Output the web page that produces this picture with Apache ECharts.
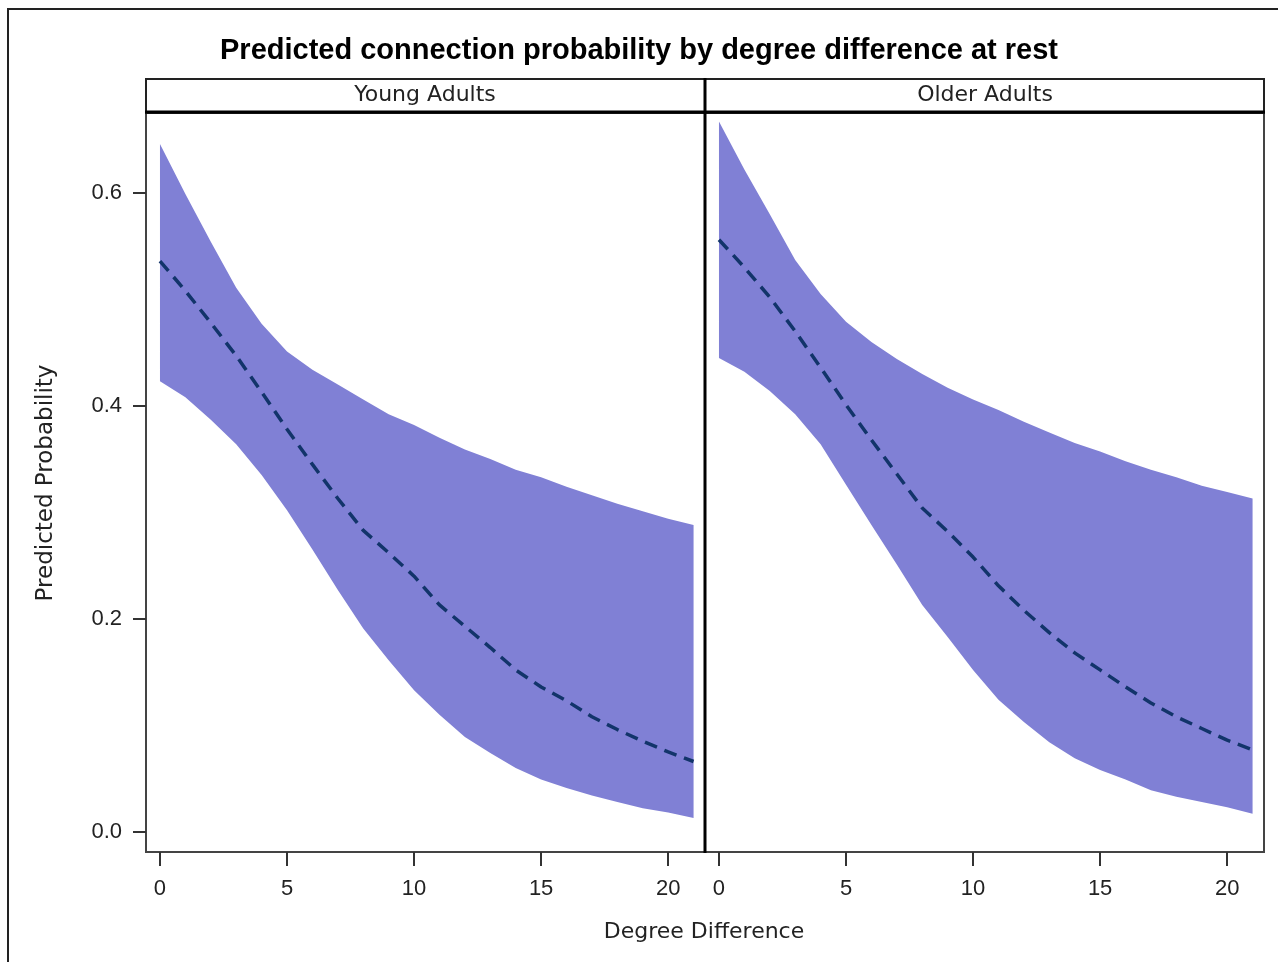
<!DOCTYPE html>
<html>
<head>
<meta charset="utf-8">
<script src="https://cdn.jsdelivr.net/npm/echarts@6/dist/echarts.min.js"></script>
<style>
  html, body { margin: 0; padding: 0; background: #fff; }
  .main { width: 1278px; height: 962px; }
</style>
</head>
<body>
<div class="main"></div>
<script>
let chartDom = document.querySelector('.main');
let myChart = echarts.init(chartDom);

let degree = [0, 1, 2, 3, 4, 5, 6, 7, 8, 9, 10, 11, 12, 13, 14, 15, 16, 17, 18, 19, 20, 21];

// Young Adults
let youngMean  = [0.536, 0.508, 0.478, 0.447, 0.413, 0.378, 0.345, 0.313, 0.283, 0.262, 0.240, 0.213, 0.193, 0.173, 0.152, 0.136, 0.123, 0.108, 0.096, 0.085, 0.075, 0.066];
let youngUpper = [0.646, 0.599, 0.554, 0.511, 0.477, 0.451, 0.434, 0.420, 0.406, 0.392, 0.382, 0.370, 0.359, 0.350, 0.340, 0.333, 0.324, 0.316, 0.308, 0.301, 0.294, 0.288];
let youngLower = [0.423, 0.408, 0.387, 0.364, 0.335, 0.302, 0.265, 0.227, 0.191, 0.161, 0.133, 0.110, 0.089, 0.074, 0.060, 0.049, 0.041, 0.034, 0.028, 0.022, 0.018, 0.013];

// Older Adults
let olderMean  = [0.556, 0.530, 0.502, 0.470, 0.436, 0.401, 0.368, 0.336, 0.304, 0.282, 0.258, 0.231, 0.208, 0.187, 0.168, 0.152, 0.136, 0.121, 0.108, 0.097, 0.086, 0.077];
let olderUpper = [0.667, 0.622, 0.580, 0.537, 0.505, 0.479, 0.460, 0.444, 0.430, 0.417, 0.406, 0.396, 0.385, 0.375, 0.365, 0.357, 0.348, 0.340, 0.333, 0.325, 0.319, 0.313];
let olderLower = [0.445, 0.432, 0.414, 0.392, 0.364, 0.326, 0.288, 0.251, 0.213, 0.183, 0.152, 0.124, 0.103, 0.084, 0.069, 0.058, 0.049, 0.039, 0.033, 0.028, 0.023, 0.017];

let panels = ['Young Adults', 'Older Adults'];
let xTicks = [0, 5, 10, 15, 20];
let yTicks = [0, 0.2, 0.4, 0.6];

let bandColor = '#8080d5';
let lineColor = '#12346a';
let tickFont = { fontFamily: 'Liberation Sans', fontSize: 22, color: '#222' };

function pairs(xs, ys) {
    return xs.map((x, i) => [x, ys[i]]);
}

// confidence band drawn as one polygon: upper edge forward, lower edge back
function bandSeries(idx, lower, upper, mean) {
    return [
        {
            type: 'custom', xAxisIndex: idx, yAxisIndex: idx, silent: true,
            data: pairs(degree, upper),
            renderItem: function (params, api) {
                if (params.dataIndex !== 0) return;
                let pts = [];
                for (let i = 0; i < degree.length; i++) pts.push(api.coord([degree[i], upper[i]]));
                for (let i = degree.length - 1; i >= 0; i--) pts.push(api.coord([degree[i], lower[i]]));
                return { type: 'polygon', shape: { points: pts }, style: { fill: bandColor } };
            }
        },
        {
            type: 'line', xAxisIndex: idx, yAxisIndex: idx,
            symbol: 'none', silent: true, z: 5,
            lineStyle: { color: lineColor, width: 3.5, type: [13, 8] },
            data: pairs(degree, mean)
        }
    ];
}

function xAxisFor(idx) {
    return {
        type: 'value', gridIndex: idx, min: -0.55, max: 21.45,
        axisLine: { show: false, onZero: false },
        splitLine: { show: false },
        axisTick: { show: true, length: 14, customValues: xTicks, lineStyle: { color: '#333', width: 2 } },
        axisLabel: Object.assign({ margin: 26, customValues: xTicks }, tickFont)
    };
}

function yAxisFor(idx) {
    return {
        type: 'value', gridIndex: idx, min: -0.019, max: 0.675,
        show: idx === 0,
        axisLine: { show: false, onZero: false },
        splitLine: { show: false },
        axisTick: { show: true, length: 13, customValues: yTicks, lineStyle: { color: '#333', width: 2 } },
        axisLabel: Object.assign({ margin: 24, customValues: yTicks, formatter: v => v.toFixed(1) }, tickFont)
    };
}

let gridStyle = { show: true, borderColor: '#444', borderWidth: 2, backgroundColor: 'transparent', containLabel: false };

option = {
    backgroundColor: '#fff',
    animation: false,
    title: {
        text: 'Predicted connection probability by degree difference at rest',
        left: 'center', top: 31,
        textStyle: { fontFamily: 'Liberation Sans', fontWeight: 'bold', fontSize: 29, color: '#000' }
    },
    grid: [
        Object.assign({ left: 146, top: 113, width: 559, height: 739 }, gridStyle),
        Object.assign({ left: 705, top: 113, width: 559, height: 739 }, gridStyle)
    ],
    xAxis: [xAxisFor(0), xAxisFor(1)],
    yAxis: [yAxisFor(0), yAxisFor(1)],
    series: bandSeries(0, youngLower, youngUpper, youngMean)
        .concat(bandSeries(1, olderLower, olderUpper, olderMean)),
    graphic: [
        // outer frame
        { type: 'rect', shape: { x: 8, y: 9, width: 1290, height: 980 }, style: { fill: 'none', stroke: '#222', lineWidth: 2 }, silent: true },
        // panel header strip
        { type: 'rect', shape: { x: 146, y: 79, width: 1118, height: 34 }, style: { fill: '#fff', stroke: '#222', lineWidth: 2 }, z: 10 },
        { type: 'line', shape: { x1: 145, y1: 112, x2: 1265, y2: 112 }, style: { stroke: '#000', lineWidth: 3 }, z: 11 },
        { type: 'line', shape: { x1: 705, y1: 78, x2: 705, y2: 853 }, style: { stroke: '#000', lineWidth: 3 }, z: 11 },
        { type: 'text', x: 425, y: 95, z: 12, style: { text: panels[0], align: 'center', verticalAlign: 'middle', fontFamily: 'DejaVu Sans', fontSize: 22, fill: '#222' } },
        { type: 'text', x: 985, y: 95, z: 12, style: { text: panels[1], align: 'center', verticalAlign: 'middle', fontFamily: 'DejaVu Sans', fontSize: 22, fill: '#222' } },
        // axis names
        { type: 'text', x: 46, y: 483, rotation: Math.PI / 2, z: 12, style: { text: 'Predicted Probability', align: 'center', verticalAlign: 'middle', fontFamily: 'DejaVu Sans', fontSize: 23, fill: '#222' } },
        { type: 'text', x: 704, y: 932, z: 12, style: { text: 'Degree Difference', align: 'center', verticalAlign: 'middle', fontFamily: 'DejaVu Sans', fontSize: 22, fill: '#222' } }
    ]
};

option && myChart.setOption(option);
</script>
</body>
</html>
